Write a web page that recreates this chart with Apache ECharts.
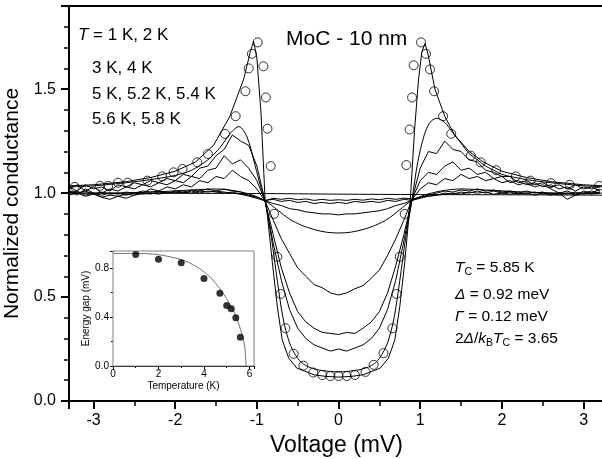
<!DOCTYPE html>
<html>
<head>
<meta charset="utf-8">
<script src="https://cdn.jsdelivr.net/npm/echarts@6/dist/echarts.min.js"></script>
<style>html,body{margin:0;padding:0;background:#fff}#c{width:602px;height:459px}</style>
</head>
<body>
<div id="c"></div>
<script>
// ---------- DATA ----------
// shared voltage grid (mV) for the noisy measured curves
const vGrid = [-3.3,-3.2,-3.1,-3.0,-2.9,-2.8,-2.7,-2.6,-2.5,-2.4,-2.3,-2.2,-2.1,-2.0,-1.9,-1.8,-1.7,-1.6,-1.5,-1.4,-1.3,-1.2,-1.1,-1.0,-0.9,-0.8,-0.7,-0.6,-0.5,-0.4,-0.3,-0.2,-0.1,0,0.1,0.2,0.3,0.4,0.5,0.6,0.7,0.8,0.9,1.0,1.1,1.2,1.3,1.4,1.5,1.6,1.7,1.8,1.9,2.0,2.1,2.2,2.3,2.4,2.5,2.6,2.7,2.8,2.9,3.0,3.1,3.2];

const g3K = [1.03,1.01,1.04,1.02,1.03,1.01,1.04,1.03,1.05,1.04,1.06,1.05,1.07,1.06,1.09,1.08,1.12,1.13,1.18,1.21,1.28,1.25,1.23,1.13,0.963,0.76,0.58,0.44,0.35,0.30,0.27,0.255,0.24,0.25,0.24,0.255,0.27,0.30,0.35,0.44,0.58,0.77,0.97,1.12,1.20,1.19,1.25,1.21,1.20,1.16,1.15,1.11,1.10,1.08,1.08,1.05,1.06,1.04,1.05,1.03,1.04,1.02,1.04,1.02,1.03,1.01];
const g4K = [1.02,1.04,1.01,1.03,1.00,1.02,1.01,1.03,1.02,1.04,1.03,1.05,1.04,1.06,1.05,1.08,1.07,1.11,1.12,1.18,1.14,1.16,1.12,1.06,0.963,0.80,0.64,0.52,0.43,0.38,0.35,0.33,0.325,0.32,0.33,0.325,0.35,0.38,0.43,0.52,0.65,0.80,0.97,1.06,1.10,1.09,1.13,1.15,1.11,1.12,1.09,1.10,1.07,1.08,1.05,1.06,1.04,1.05,1.03,1.04,1.02,1.03,1.01,1.03,1.02,1.03];
const g5K = [1.01,0.99,1.02,1.00,0.98,0.97,0.985,0.975,0.99,1.00,1.02,1.01,1.03,1.02,1.04,1.03,1.06,1.05,1.08,1.07,1.11,1.08,1.06,1.02,0.963,0.87,0.78,0.71,0.64,0.60,0.56,0.545,0.52,0.51,0.52,0.54,0.555,0.59,0.63,0.70,0.78,0.87,0.97,1.02,1.05,1.04,1.07,1.06,1.09,1.07,1.08,1.06,1.07,1.05,1.06,1.04,1.05,1.03,1.04,1.02,1.00,0.97,0.99,1.01,1.00,1.02];
const g54K = [1.00,1.01,0.99,1.00,0.99,1.00,0.995,1.005,1.00,1.01,1.005,1.01,1.00,1.01,1.005,1.015,1.01,1.02,1.01,1.02,1.01,1.005,0.99,0.98,0.963,0.95,0.94,0.925,0.92,0.91,0.905,0.90,0.90,0.895,0.90,0.90,0.905,0.91,0.915,0.925,0.94,0.95,0.965,0.98,0.99,1.00,1.01,1.005,1.015,1.01,1.02,1.01,1.015,1.005,1.01,1.00,1.01,1.00,1.005,0.995,1.00,1.01,0.995,1.00,1.01,1.00];
const g56K = [0.99,1.00,0.985,0.995,0.98,0.99,0.985,0.995,0.99,1.00,0.995,1.005,1.00,1.005,1.00,1.01,1.00,1.01,1.005,1.00,1.005,0.995,0.99,0.98,0.965,0.97,0.96,0.965,0.955,0.96,0.95,0.955,0.95,0.955,0.95,0.96,0.955,0.96,0.955,0.965,0.96,0.97,0.965,0.975,0.985,0.99,1.00,0.995,1.005,1.00,1.01,1.00,1.01,1.00,1.005,0.995,1.00,0.99,1.00,0.99,1.00,0.995,1.005,0.995,1.00,1.005];
const g58K = [1.01,1.00,1.01,0.995,1.005,0.995,1.00,0.99,1.00,0.995,1.00,0.995,1.005,1.00,1.005,1.00,1.01,1.005,1.01,1.005,1.00,0.995,0.985,0.975,0.963,0.975,0.97,0.975,0.968,0.972,0.965,0.97,0.965,0.968,0.965,0.97,0.966,0.972,0.968,0.975,0.97,0.976,0.972,0.98,0.985,0.99,0.995,1.00,0.995,1.005,1.00,1.005,0.995,1.00,0.995,1.00,0.995,1.005,0.995,1.00,0.99,1.00,0.99,1.00,0.995,1.00];

// smooth fitted curves (each with its own voltage points)
const fit1V = [-3.3,-3.0,-2.6,-2.3,-2.0,-1.75,-1.53,-1.33,-1.16,-1.08,-1.04,-1.0,-0.95,-0.9,-0.875,-0.81,-0.75,-0.69,-0.61,-0.51,-0.3,-0.15,0,0.15,0.3,0.51,0.61,0.69,0.75,0.81,0.855,0.88,0.93,0.98,1.02,1.06,1.1,1.18,1.3,1.42,1.6,1.77,2.0,2.3,2.6,3.0,3.25];
const fit1G = [1.035,1.04,1.055,1.075,1.105,1.15,1.23,1.37,1.55,1.68,1.73,1.65,1.39,0.975,0.906,0.665,0.455,0.295,0.206,0.158,0.126,0.118,0.115,0.118,0.126,0.158,0.206,0.295,0.455,0.665,0.86,0.975,1.3,1.55,1.68,1.72,1.66,1.5,1.37,1.28,1.2,1.15,1.105,1.075,1.055,1.04,1.035];
const fit2V = [-3.3,-3.0,-2.6,-2.3,-2.0,-1.8,-1.6,-1.45,-1.32,-1.22,-1.12,-1.02,-0.96,-0.9,-0.82,-0.75,-0.68,-0.6,-0.5,-0.4,-0.25,0,0.25,0.4,0.5,0.6,0.68,0.75,0.82,0.9,0.97,1.05,1.12,1.2,1.3,1.4,1.5,1.6,1.7,1.8,1.9,2.0,2.3,2.6,3.0,3.25];
const fit2G = [1.03,1.035,1.05,1.065,1.085,1.11,1.16,1.22,1.29,1.32,1.27,1.13,1.04,0.963,0.78,0.58,0.40,0.28,0.205,0.17,0.15,0.14,0.15,0.17,0.205,0.28,0.40,0.58,0.78,0.97,1.15,1.28,1.34,1.36,1.34,1.29,1.24,1.19,1.16,1.13,1.11,1.09,1.065,1.05,1.035,1.03];
const fit52V = [-3.3,-2.8,-2.3,-1.8,-1.5,-1.25,-1.05,-0.9,-0.75,-0.6,-0.45,-0.3,-0.15,0,0.15,0.3,0.45,0.6,0.75,0.9,1.05,1.25,1.5,1.8,2.3,2.8,3.25];
const fit52G = [1.0,1.0,1.005,1.015,1.02,1.01,0.99,0.963,0.92,0.875,0.845,0.825,0.812,0.808,0.812,0.825,0.845,0.875,0.92,0.965,0.99,1.01,1.02,1.015,1.005,1.0,1.0];
const flatV = [-3.3,-1.0,0,1.0,2.0,3.25];
const flatG = [1.0,0.998,0.995,0.993,0.992,0.99];

// 1 K data points (open circles)
const ptV = [-3.23,-2.92,-2.82,-2.70,-2.58,-2.34,-2.16,-2.02,-1.91,-1.73,-1.60,-1.39,-1.26,-1.14,-1.10,-1.06,-0.99,-0.92,-0.89,-0.87,-0.83,-0.79,-0.75,-0.71,-0.65,-0.55,-0.43,-0.31,-0.2,-0.1,0,0.1,0.2,0.33,0.43,0.55,0.66,0.71,0.75,0.81,0.83,0.87,0.90,0.92,1.01,1.07,1.12,1.17,1.28,1.38,1.62,1.74,1.93,2.17,2.35,2.60,2.83,3.19];
const ptG = [1.03,1.035,1.035,1.05,1.05,1.06,1.08,1.10,1.116,1.148,1.188,1.285,1.37,1.49,1.60,1.67,1.725,1.61,1.46,1.31,1.13,0.90,0.694,0.515,0.35,0.227,0.17,0.137,0.125,0.12,0.12,0.12,0.125,0.14,0.174,0.23,0.35,0.515,0.694,0.90,1.135,1.306,1.46,1.615,1.725,1.67,1.595,1.49,1.37,1.285,1.18,1.148,1.11,1.08,1.06,1.048,1.04,1.035];

// inset: energy gap vs temperature
const tempK = [1,2,3,4,4.7,5.0,5.2,5.4,5.6];
const gapMeV = [0.912,0.873,0.843,0.716,0.595,0.495,0.468,0.394,0.234];
const gapFitT = [0,1,2,3,3.5,4,4.5,5,5.3,5.5,5.7,5.8,5.85];
const gapFitG = [0.92,0.92,0.91,0.87,0.83,0.77,0.68,0.55,0.45,0.36,0.24,0.15,0.0];

// ---------- CHART ----------
const FONT = '"Liberation Sans", Arial, Helvetica, sans-serif';
const zip = (a, b) => a.map((x, i) => [x, b[i]]);
const BLACK = '#000';

function lineSeries(name, v, g, smooth) {
  return {
    name, type: 'line', xAxisIndex: 0, yAxisIndex: 0,
    data: zip(v, g), showSymbol: false, smooth: smooth ? 0.3 : false,
    lineStyle: { color: BLACK, width: 1 }, animation: false, z: 2
  };
}

const chart = echarts.init(document.getElementById('c'), null, { renderer: 'canvas', width: 602, height: 459 });

const option = {
  backgroundColor: '#fff',
  animation: false,
  textStyle: { fontFamily: FONT },
  grid: [
    { left: 69, top: 6, right: -2, bottom: 58, outerBoundsMode: 'none', containLabel: false, show: true, borderColor: BLACK, borderWidth: 2, backgroundColor: 'transparent' },
    { left: 113, top: 251, width: 141, height: 115, outerBoundsMode: 'none', containLabel: false, show: true, borderColor: '#808080', borderWidth: 1, backgroundColor: '#fff', z: 5 }
  ],
  xAxis: [
    {
      gridIndex: 0, type: 'value', min: -3.3, max: 3.25, splitNumber: 6,
      axisLine: { onZero: false, lineStyle: { color: BLACK, width: 2 } },
      axisTick: { length: 8, lineStyle: { color: BLACK, width: 2 } },
      minorTick: { show: true, splitNumber: 2, length: 5, lineStyle: { color: BLACK, width: 1.5 } },
      splitLine: { show: false },
      axisLabel: { fontSize: 16, color: BLACK, margin: 12, showMinLabel: false, showMaxLabel: false, fontFamily: FONT },
      name: 'Voltage (mV)', nameLocation: 'middle', nameGap: 29,
      nameTextStyle: { fontSize: 23, color: BLACK, fontFamily: FONT }
    },
    {
      gridIndex: 1, type: 'value', min: 0, max: 6.2, interval: 2,
      axisLine: { onZero: false, lineStyle: { color: BLACK, width: 1 } },
      axisTick: { length: 3, lineStyle: { color: BLACK, width: 1 } },
      minorTick: { show: true, splitNumber: 2, length: 2, lineStyle: { color: BLACK, width: 1 } },
      splitLine: { show: false },
      axisLabel: { fontSize: 10, color: BLACK, margin: 3, showMaxLabel: false, fontFamily: FONT },
      name: 'Temperature (K)', nameLocation: 'middle', nameGap: 15,
      nameTextStyle: { fontSize: 10, color: BLACK, fontFamily: FONT }
    }
  ],
  yAxis: [
    {
      gridIndex: 0, type: 'value', min: 0, max: 1.9, interval: 0.5,
      axisLine: { onZero: false, lineStyle: { color: BLACK, width: 2 } },
      axisTick: { length: 8, lineStyle: { color: BLACK, width: 2 } },
      minorTick: { show: true, splitNumber: 5, length: 5, lineStyle: { color: BLACK, width: 1.5 } },
      splitLine: { show: false },
      axisLabel: { fontSize: 16, color: BLACK, margin: 13, showMaxLabel: false, fontFamily: FONT, formatter: v => v.toFixed(1) },
      name: 'Normalized conductance', nameLocation: 'middle', nameGap: 34,
      nameTextStyle: { fontSize: 21, color: BLACK, fontFamily: FONT }
    },
    {
      gridIndex: 1, type: 'value', min: 0, max: 0.94, interval: 0.4,
      axisLine: { onZero: false, lineStyle: { color: BLACK, width: 1 } },
      axisTick: { length: 3, lineStyle: { color: BLACK, width: 1 } },
      minorTick: { show: true, splitNumber: 2, length: 2, lineStyle: { color: BLACK, width: 1 } },
      splitLine: { show: false },
      axisLabel: { fontSize: 10, color: BLACK, margin: 4, showMaxLabel: false, fontFamily: FONT, formatter: v => v.toFixed(1) },
      name: 'Energy gap (mV)', nameLocation: 'middle', nameGap: 21,
      nameTextStyle: { fontSize: 10, color: BLACK, fontFamily: FONT }
    }
  ],
  series: [
    lineSeries('flat', flatV, flatG, true),
    lineSeries('5.8 K', vGrid, g58K, false),
    lineSeries('5.6 K', vGrid, g56K, false),
    lineSeries('5.4 K', vGrid, g54K, false),
    lineSeries('5.2 K fit', fit52V, fit52G, true),
    lineSeries('5 K', vGrid, g5K, false),
    lineSeries('4 K', vGrid, g4K, false),
    lineSeries('3 K', vGrid, g3K, false),
    lineSeries('2 K fit', fit2V, fit2G, true),
    lineSeries('1 K fit', fit1V, fit1G, false),
    {
      name: '1 K data', type: 'scatter', xAxisIndex: 0, yAxisIndex: 0,
      data: zip(ptV, ptG), symbol: 'circle', symbolSize: 9,
      itemStyle: { color: 'rgba(0,0,0,0)', borderColor: BLACK, borderWidth: 1 }, z: 3
    },
    {
      name: 'gap fit', type: 'line', xAxisIndex: 1, yAxisIndex: 1,
      data: zip(gapFitT, gapFitG), showSymbol: false, smooth: 0.3,
      lineStyle: { color: '#707070', width: 1 }, z: 6
    },
    {
      name: 'gap', type: 'scatter', xAxisIndex: 1, yAxisIndex: 1,
      data: zip(tempK, gapMeV), symbol: 'circle', symbolSize: 7,
      itemStyle: { color: BLACK }, z: 7
    }
  ],
  graphic: [
    { type: 'text', x: 78, y: 35, style: { text: '{i|T} = 1 K, 2 K', font: '17px ' + FONT, fill: BLACK, verticalAlign: 'middle',
      rich: { i: { fontStyle: 'italic', fontSize: 17, fontFamily: FONT } } } },
    { type: 'text', x: 92, y: 68, style: { text: '3 K, 4 K', font: '17px ' + FONT, fill: BLACK, verticalAlign: 'middle' } },
    { type: 'text', x: 92, y: 94, style: { text: '5 K, 5.2 K, 5.4 K', font: '17px ' + FONT, fill: BLACK, verticalAlign: 'middle' } },
    { type: 'text', x: 92, y: 119, style: { text: '5.6 K, 5.8 K', font: '17px ' + FONT, fill: BLACK, verticalAlign: 'middle' } },
    { type: 'text', x: 286, y: 39, style: { text: 'MoC - 10 nm', font: '21px ' + FONT, fill: BLACK, verticalAlign: 'middle' } },
    { type: 'text', x: 455, y: 268, style: { text: '{i|T}{s|C} = 5.85 K', font: '15.5px ' + FONT, fill: BLACK, verticalAlign: 'middle',
      rich: { i: { fontStyle: 'italic', fontSize: 15.5, fontFamily: FONT }, s: { fontSize: 10.5, fontFamily: FONT, padding: [8, 0, 0, 0] } } } },
    { type: 'text', x: 455, y: 295, style: { text: '{i|Δ} = 0.92 meV', font: '15.5px ' + FONT, fill: BLACK, verticalAlign: 'middle',
      rich: { i: { fontStyle: 'italic', fontSize: 15.5, fontFamily: FONT } } } },
    { type: 'text', x: 455, y: 317, style: { text: '{i|Γ} = 0.12 meV', font: '15.5px ' + FONT, fill: BLACK, verticalAlign: 'middle',
      rich: { i: { fontStyle: 'italic', fontSize: 15.5, fontFamily: FONT } } } },
    { type: 'text', x: 455, y: 339, style: { text: '2{i|Δ}/{i|k}{s|B}{i|T}{s|C} = 3.65', font: '15.5px ' + FONT, fill: BLACK, verticalAlign: 'middle',
      rich: { i: { fontStyle: 'italic', fontSize: 15.5, fontFamily: FONT }, s: { fontSize: 10.5, fontFamily: FONT, padding: [8, 0, 0, 0] } } } }
  ]
};
chart.setOption(option);
</script>
</body>
</html>
